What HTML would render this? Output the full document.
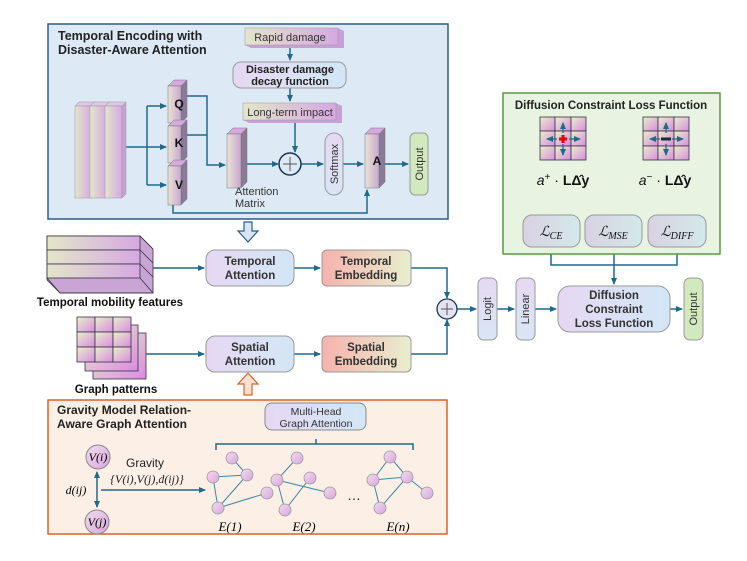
<!DOCTYPE html>
<html><head><meta charset="utf-8"><style>
html,body{margin:0;padding:0;background:#fff}
svg{display:block}
text{font-family:"Liberation Sans",sans-serif}
.b{font-weight:bold}
.m{font-family:"Liberation Serif",serif;font-style:italic}
</style></head><body>
<svg width="747" height="561" viewBox="0 0 747 561" xmlns="http://www.w3.org/2000/svg">
<defs>
<linearGradient id="att" x1="0" y1="0" x2="1" y2="0"><stop offset="0" stop-color="#e6d8f2"/><stop offset="1" stop-color="#d3e7f6"/></linearGradient>
<linearGradient id="emb" x1="0" y1="0" x2="1" y2="0"><stop offset="0" stop-color="#f6b2ad"/><stop offset="1" stop-color="#e8eecf"/></linearGradient>
<linearGradient id="slab" x1="0" y1="0" x2="1" y2="0"><stop offset="0" stop-color="#e3e6c9"/><stop offset="1" stop-color="#d6a8e2"/></linearGradient>
<linearGradient id="slabv" x1="0" y1="0" x2="1" y2="0"><stop offset="0" stop-color="#e9e2d4"/><stop offset="1" stop-color="#c9a8cf"/></linearGradient>
<linearGradient id="cell" x1="0" y1="0" x2="1" y2="1"><stop offset="0" stop-color="#e9f0c7"/><stop offset="1" stop-color="#d98be2"/></linearGradient>
<linearGradient id="pill" x1="0" y1="0" x2="0" y2="1"><stop offset="0" stop-color="#e6d9f1"/><stop offset="1" stop-color="#d8e6f5"/></linearGradient>
<linearGradient id="loss" x1="0" y1="0" x2="1" y2="0"><stop offset="0" stop-color="#d9d1e3"/><stop offset="1" stop-color="#d4e8ea"/></linearGradient>
<linearGradient id="node" x1="0" y1="0" x2="1" y2="1"><stop offset="0" stop-color="#f2dcef"/><stop offset="1" stop-color="#d8a6dc"/></linearGradient>
<marker id="ar" markerWidth="8" markerHeight="8" refX="6" refY="3" orient="auto" markerUnits="userSpaceOnUse"><path d="M0,0 L7,3 L0,6 z" fill="#1f6a8a"/></marker>
<marker id="ars" markerWidth="8" markerHeight="8" refX="1" refY="3" orient="auto" markerUnits="userSpaceOnUse"><path d="M7,0 L0,3 L7,6 z" fill="#1f6a8a"/></marker>
</defs>

<rect x="48" y="24" width="400" height="195" fill="#dde9f5" stroke="#2f5a86" stroke-width="1.5"/>
<text x="58" y="40" class="b" font-size="12.5" fill="#222">Temporal Encoding with</text>
<text x="58" y="54" class="b" font-size="12.5" fill="#222">Disaster-Aware Attention</text>

<g stroke="#1f6a8a" stroke-width="1.5" fill="none">
<line x1="290" y1="45" x2="290" y2="60" marker-end="url(#ar)"/>
<line x1="290" y1="88" x2="290" y2="101" marker-end="url(#ar)"/>
<line x1="295" y1="120" x2="295" y2="152" marker-end="url(#ar)"/>
<polyline points="123,147 147,147"/>
<polyline points="147,106 147,185"/>
<line x1="147" y1="106" x2="166" y2="106" marker-end="url(#ar)"/>
<line x1="147" y1="147" x2="166" y2="147" marker-end="url(#ar)"/>
<line x1="147" y1="185" x2="166" y2="185" marker-end="url(#ar)"/>
<polyline points="187,96 207,96 207,165 225,165" marker-end="url(#ar)"/>
<polyline points="187,135 207,135"/>
<line x1="247" y1="164" x2="278" y2="164" marker-end="url(#ar)"/>
<line x1="301" y1="164" x2="323" y2="164" marker-end="url(#ar)"/>
<line x1="342" y1="164" x2="363" y2="164" marker-end="url(#ar)"/>
<line x1="385" y1="164" x2="408" y2="164" marker-end="url(#ar)"/>
<polyline points="173,205 173,213 367,213 367,190" marker-end="url(#ar)"/>
</g>

<polygon points="245,28 338,28 344,31 344,48 251,48 245,45" fill="#c9a0d6"/>
<rect x="245" y="28" width="93" height="17" fill="url(#slab)" stroke="#999" stroke-width="0.5"/>
<text x="290" y="41" font-size="11" text-anchor="middle" fill="#333">Rapid damage</text>
<rect x="233" y="62" width="113" height="26" rx="8" fill="url(#att)" stroke="#999"/>
<text x="290" y="73" font-size="11" class="b" text-anchor="middle" fill="#222">Disaster damage</text>
<text x="290" y="85" font-size="11" class="b" text-anchor="middle" fill="#222">decay function</text>
<polygon points="243,103 336,103 342,106 342,123 249,123 243,120" fill="#c9a0d6"/>
<rect x="243" y="103" width="93" height="17" fill="url(#slab)" stroke="#999" stroke-width="0.5"/>
<text x="290" y="116" font-size="11" text-anchor="middle" fill="#333">Long-term impact</text>

<g stroke="#999" stroke-width="0.5">
<polygon points="75,106 79,102 96,102 92,106" fill="#e2c6ea"/>
<rect x="75" y="106" width="17" height="92" fill="url(#slab)"/>
<polygon points="90,106 94,102 111,102 107,106" fill="#e2c6ea"/>
<rect x="90" y="106" width="17" height="92" fill="url(#slab)"/>
<polygon points="105,106 109,102 126,102 122,106" fill="#e2c6ea"/>
<rect x="105" y="106" width="17" height="92" fill="url(#slab)"/>
<polygon points="122,106 126,102 126,194 122,198" fill="#c9a0d6"/>
</g>
<g stroke="#777" stroke-width="0.5">
<polygon points="168,86 174,80 187,80 181,86" fill="#d6a8e0"/><polygon points="181,86 187,80 187,117 181,123" fill="#8a7a9a"/>
<rect x="168" y="86" width="13" height="37" fill="url(#slabv)"/>
<polygon points="168,126 174,120 187,120 181,126" fill="#d6a8e0"/><polygon points="181,126 187,120 187,157 181,163" fill="#8a7a9a"/>
<rect x="168" y="126" width="13" height="37" fill="url(#slabv)"/>
<polygon points="168,166 174,160 187,160 181,166" fill="#d6a8e0"/><polygon points="181,166 187,160 187,199 181,205" fill="#8a7a9a"/>
<rect x="168" y="166" width="13" height="39" fill="url(#slabv)"/>
<polygon points="227,134 233,128 247,128 241,134" fill="#d6a8e0"/><polygon points="241,134 247,128 247,182 241,188" fill="#8a7a9a"/>
<rect x="227" y="134" width="14" height="54" fill="url(#slabv)"/>
<polygon points="365,134 371,128 385,128 379,134" fill="#d6a8e0"/><polygon points="379,134 385,128 385,182 379,188" fill="#8a7a9a"/>
<rect x="365" y="134" width="14" height="54" fill="url(#slabv)"/>
</g>
<text x="179" y="108" font-size="12" class="b" text-anchor="middle" fill="#111">Q</text>
<text x="179" y="147" font-size="12" class="b" text-anchor="middle" fill="#111">K</text>
<text x="179" y="189" font-size="12" class="b" text-anchor="middle" fill="#111">V</text>
<text x="377" y="165" font-size="12" class="b" text-anchor="middle" fill="#111">A</text>
<text x="235" y="195" font-size="11" fill="#333">Attention</text>
<text x="235" y="207" font-size="11" fill="#333">Matrix</text>
<circle cx="290" cy="164" r="11" fill="#dde9f5" stroke="#1a3550" stroke-width="1.5"/>
<path d="M283,164 H297 M290,157 V171" stroke="#555" stroke-width="1"/>
<rect x="325" y="133" width="18" height="62" rx="9" fill="url(#pill)" stroke="#999"/>
<text transform="translate(338,164) rotate(-90)" font-size="11" text-anchor="middle" fill="#333">Softmax</text>
<rect x="410" y="133" width="18" height="62" rx="5" fill="#d2e8bd" stroke="#999"/>
<text transform="translate(423,164) rotate(-90)" font-size="11" text-anchor="middle" fill="#333">Output</text>

<path d="M244,222 H252 V231 H258 L248,242 L238,231 H244 Z" fill="#d6e6f5" stroke="#2f5a86" stroke-width="1.2"/>
<path d="M244,395 H252 V384 H258 L248,373 L238,384 H244 Z" fill="#fbe0d3" stroke="#d5652a" stroke-width="1.2"/>

<g stroke="#334" stroke-width="0.8">
<polygon points="47,236 140,236 153,249 153,293 60,293 47,280" fill="#cba4d6"/>
<rect x="47" y="236" width="93" height="14" fill="url(#slab)"/>
<rect x="47" y="250" width="93" height="14" fill="url(#slab)"/>
<rect x="47" y="264" width="93" height="14" fill="url(#slab)"/>
<line x1="140" y1="236" x2="153" y2="249"/><line x1="140" y1="250" x2="153" y2="263"/><line x1="140" y1="264" x2="153" y2="277"/><line x1="140" y1="278" x2="153" y2="293"/>
<line x1="47" y1="278" x2="60" y2="293"/><line x1="60" y1="293" x2="153" y2="293"/>
</g>
<text x="110" y="306" font-size="11.5" class="b" text-anchor="middle" fill="#111">Temporal mobility features</text>

<g stroke="#334" stroke-width="0.8">
<rect x="93" y="333" width="53" height="46" fill="url(#cell)"/>
<rect x="85" y="325" width="53" height="46" fill="url(#cell)"/>
<g fill="url(#cell)">
<rect x="77" y="317" width="18" height="15"/><rect x="95" y="317" width="18" height="15"/><rect x="113" y="317" width="18" height="15"/>
<rect x="77" y="332" width="18" height="15"/><rect x="95" y="332" width="18" height="15"/><rect x="113" y="332" width="18" height="15"/>
<rect x="77" y="347" width="18" height="15"/><rect x="95" y="347" width="18" height="15"/><rect x="113" y="347" width="18" height="15"/>
</g>
</g>
<text x="116" y="393" font-size="11.5" class="b" text-anchor="middle" fill="#111">Graph patterns</text>

<g stroke="#1f6a8a" stroke-width="1.5" fill="none">
<line x1="153" y1="268" x2="204" y2="268" marker-end="url(#ar)"/>
<line x1="146" y1="354" x2="204" y2="354" marker-end="url(#ar)"/>
<line x1="294" y1="268" x2="320" y2="268" marker-end="url(#ar)"/>
<line x1="294" y1="354" x2="320" y2="354" marker-end="url(#ar)"/>
<polyline points="411,268 447,268 447,298" marker-end="url(#ar)"/>
<polyline points="411,354 447,354 447,320" marker-end="url(#ar)"/>
<line x1="457" y1="309" x2="476" y2="309" marker-end="url(#ar)"/>
<line x1="497" y1="309" x2="514" y2="309" marker-end="url(#ar)"/>
<line x1="535" y1="309" x2="556" y2="309" marker-end="url(#ar)"/>
<line x1="670" y1="309" x2="682" y2="309" marker-end="url(#ar)"/>
<polyline points="560,193 560,204 660,204"/>
<polyline points="660,193 660,204 677,204 677,214" marker-end="url(#ar)"/>
<polyline points="551,247 551,265 677,265 677,247"/>
<line x1="614" y1="247" x2="614" y2="284" marker-end="url(#ar)"/>
</g>

<rect x="206" y="250" width="88" height="36" rx="9" fill="url(#att)" stroke="#999"/>
<text x="250" y="265" font-size="11.5" class="b" text-anchor="middle" fill="#333">Temporal</text>
<text x="250" y="279" font-size="11.5" class="b" text-anchor="middle" fill="#333">Attention</text>
<rect x="322" y="250" width="89" height="36" rx="5" fill="url(#emb)" stroke="#999"/>
<text x="366" y="265" font-size="11.5" class="b" text-anchor="middle" fill="#333">Temporal</text>
<text x="366" y="279" font-size="11.5" class="b" text-anchor="middle" fill="#333">Embedding</text>
<rect x="206" y="336" width="88" height="36" rx="9" fill="url(#att)" stroke="#999"/>
<text x="250" y="351" font-size="11.5" class="b" text-anchor="middle" fill="#333">Spatial</text>
<text x="250" y="365" font-size="11.5" class="b" text-anchor="middle" fill="#333">Attention</text>
<rect x="322" y="336" width="89" height="36" rx="5" fill="url(#emb)" stroke="#999"/>
<text x="366" y="351" font-size="11.5" class="b" text-anchor="middle" fill="#333">Spatial</text>
<text x="366" y="365" font-size="11.5" class="b" text-anchor="middle" fill="#333">Embedding</text>

<circle cx="447" cy="309" r="10" fill="#e5e3f2" stroke="#1a3550" stroke-width="1.3"/>
<path d="M441,309 H453 M447,303 V315" stroke="#555" stroke-width="1"/>
<rect x="478" y="278" width="19" height="62" rx="6" fill="url(#pill)" stroke="#999"/>
<text transform="translate(491,309) rotate(-90)" font-size="11" text-anchor="middle" fill="#333">Logit</text>
<rect x="516" y="278" width="19" height="62" rx="6" fill="url(#pill)" stroke="#999"/>
<text transform="translate(529,309) rotate(-90)" font-size="11" text-anchor="middle" fill="#333">Linear</text>
<rect x="558" y="286" width="112" height="46" rx="12" fill="url(#att)" stroke="#999"/>
<text x="614" y="299" font-size="11.5" class="b" text-anchor="middle" fill="#333">Diffusion</text>
<text x="614" y="313" font-size="11.5" class="b" text-anchor="middle" fill="#333">Constraint</text>
<text x="614" y="327" font-size="11.5" class="b" text-anchor="middle" fill="#333">Loss Function</text>
<rect x="684" y="278" width="19" height="62" rx="6" fill="#d2e8bd" stroke="#999"/>
<text transform="translate(697,309) rotate(-90)" font-size="11" text-anchor="middle" fill="#333">Output</text>

<rect x="503" y="93" width="217" height="161" fill="#e8f3e2" stroke="#5a9a45" stroke-width="1.5"/>
<text x="611" y="109" font-size="11.5" class="b" text-anchor="middle" fill="#222">Diffusion Constraint Loss Function</text>
<g stroke="#334" stroke-width="0.8" fill="url(#cell)">
<rect x="540" y="117" width="15" height="14"/><rect x="555" y="117" width="16" height="14"/><rect x="571" y="117" width="15" height="14"/>
<rect x="540" y="131" width="15" height="15"/><rect x="555" y="131" width="16" height="15"/><rect x="571" y="131" width="15" height="15"/>
<rect x="540" y="146" width="15" height="14"/><rect x="555" y="146" width="16" height="14"/><rect x="571" y="146" width="15" height="14"/>
<rect x="643" y="117" width="15" height="14"/><rect x="658" y="117" width="16" height="14"/><rect x="674" y="117" width="15" height="14"/>
<rect x="643" y="131" width="15" height="15"/><rect x="658" y="131" width="16" height="15"/><rect x="674" y="131" width="15" height="15"/>
<rect x="643" y="146" width="15" height="14"/><rect x="658" y="146" width="16" height="14"/><rect x="674" y="146" width="15" height="14"/>
</g>
<g stroke="#1f6a8a" stroke-width="1.3">
<line x1="563" y1="133" x2="563" y2="123" marker-end="url(#ar)"/><line x1="563" y1="144" x2="563" y2="155" marker-end="url(#ar)"/>
<line x1="557" y1="139" x2="547" y2="139" marker-end="url(#ar)"/><line x1="569" y1="139" x2="580" y2="139" marker-end="url(#ar)"/>
<line x1="666" y1="133" x2="666" y2="123" marker-end="url(#ar)"/><line x1="666" y1="144" x2="666" y2="155" marker-end="url(#ar)"/>
<line x1="660" y1="139" x2="650" y2="139" marker-end="url(#ar)"/><line x1="672" y1="139" x2="683" y2="139" marker-end="url(#ar)"/>
</g>
<path d="M559,139 H567 M563,135 V143" stroke="#e00" stroke-width="3"/>
<path d="M661,139 H671" stroke="#1a2a3a" stroke-width="3"/>
<text x="563" y="185" font-size="14" text-anchor="middle" fill="#111" font-family="Liberation Serif,serif"><tspan font-style="italic">a</tspan><tspan font-size="10" dy="-5">+</tspan><tspan dy="5"> · </tspan><tspan font-weight="bold">LΔ̂y</tspan></text>
<text x="665" y="185" font-size="14" text-anchor="middle" fill="#111" font-family="Liberation Serif,serif"><tspan font-style="italic">a</tspan><tspan font-size="10" dy="-5">−</tspan><tspan dy="5"> · </tspan><tspan font-weight="bold">LΔ̂y</tspan></text>
<rect x="523" y="215" width="57" height="32" rx="9" fill="url(#loss)" stroke="#999"/>
<rect x="585" y="215" width="57" height="32" rx="9" fill="url(#loss)" stroke="#999"/>
<rect x="648" y="215" width="58" height="32" rx="9" fill="url(#loss)" stroke="#999"/>
<text x="551" y="236" font-size="14" class="m" text-anchor="middle" fill="#111">ℒ<tspan font-size="10" dy="3">CE</tspan></text>
<text x="613" y="236" font-size="14" class="m" text-anchor="middle" fill="#111">ℒ<tspan font-size="10" dy="3">MSE</tspan></text>
<text x="677" y="236" font-size="14" class="m" text-anchor="middle" fill="#111">ℒ<tspan font-size="10" dy="3">DIFF</tspan></text>

<rect x="48" y="400" width="399" height="134" fill="#fcefe6" stroke="#d5652a" stroke-width="1.5"/>
<text x="57" y="414" font-size="12" class="b" fill="#222">Gravity Model Relation-</text>
<text x="57" y="428" font-size="12" class="b" fill="#222">Aware Graph Attention</text>
<rect x="265" y="403" width="101" height="27" rx="7" fill="url(#att)" stroke="#888"/>
<text x="316" y="415" font-size="10.5" text-anchor="middle" fill="#333">Multi-Head</text>
<text x="316" y="427" font-size="10.5" text-anchor="middle" fill="#333">Graph Attention</text>
<path d="M216,450 V444 H413 V450 M316,444 V439" stroke="#1f6a8a" stroke-width="1.5" fill="none"/>
<circle cx="98" cy="457" r="12" fill="url(#node)" stroke="#888"/>
<text x="98" y="461" font-size="12" class="m" text-anchor="middle">V(i)</text>
<circle cx="97" cy="522" r="12" fill="url(#node)" stroke="#888"/>
<text x="97" y="526" font-size="12" class="m" text-anchor="middle">V(j)</text>
<line x1="97" y1="472" x2="97" y2="507" stroke="#1f6a8a" stroke-width="1.5" marker-end="url(#ar)" marker-start="url(#ars)"/>
<text x="76" y="494" font-size="12" class="m" text-anchor="middle">d(ij)</text>
<text x="145" y="467" font-size="12" text-anchor="middle" fill="#222">Gravity</text>
<text x="147" y="483" font-size="12" class="m" text-anchor="middle" fill="#222">{V(i),V(j),d(ij)}</text>
<line x1="101" y1="490" x2="205" y2="490" stroke="#1f6a8a" stroke-width="1.5" marker-end="url(#ar)"/>
<g stroke="#3c87a8" stroke-width="1">
<line x1="232" y1="458" x2="247" y2="475"/><line x1="213" y1="477" x2="247" y2="475"/><line x1="213" y1="477" x2="218" y2="508"/><line x1="247" y1="475" x2="218" y2="508"/><line x1="218" y1="508" x2="267" y2="493"/>
<line x1="297" y1="458" x2="277" y2="480"/><line x1="277" y1="480" x2="330" y2="493"/><line x1="310" y1="478" x2="285" y2="510"/><line x1="277" y1="480" x2="285" y2="510"/>
<line x1="390" y1="457" x2="373" y2="480"/><line x1="390" y1="457" x2="407" y2="477"/><line x1="373" y1="480" x2="407" y2="477"/><line x1="373" y1="480" x2="380" y2="508"/><line x1="407" y1="477" x2="380" y2="508"/><line x1="407" y1="477" x2="427" y2="493"/>
</g>
<g fill="url(#node)" stroke="#999" stroke-width="0.8">
<circle cx="232" cy="458" r="6"/><circle cx="213" cy="477" r="6"/><circle cx="247" cy="475" r="6"/><circle cx="267" cy="493" r="6"/><circle cx="218" cy="508" r="6"/>
<circle cx="297" cy="458" r="6"/><circle cx="277" cy="480" r="6"/><circle cx="310" cy="478" r="6"/><circle cx="330" cy="493" r="6"/><circle cx="285" cy="510" r="6"/>
<circle cx="390" cy="457" r="6"/><circle cx="373" cy="480" r="6"/><circle cx="407" cy="477" r="6"/><circle cx="427" cy="493" r="6"/><circle cx="380" cy="508" r="6"/>
</g>
<text x="354" y="500" font-size="14" text-anchor="middle" fill="#222">…</text>
<text x="230" y="531" font-size="13" class="m" text-anchor="middle">E(1)</text>
<text x="304" y="531" font-size="13" class="m" text-anchor="middle">E(2)</text>
<text x="398" y="531" font-size="13" class="m" text-anchor="middle">E(n)</text>
</svg>
</body></html>
